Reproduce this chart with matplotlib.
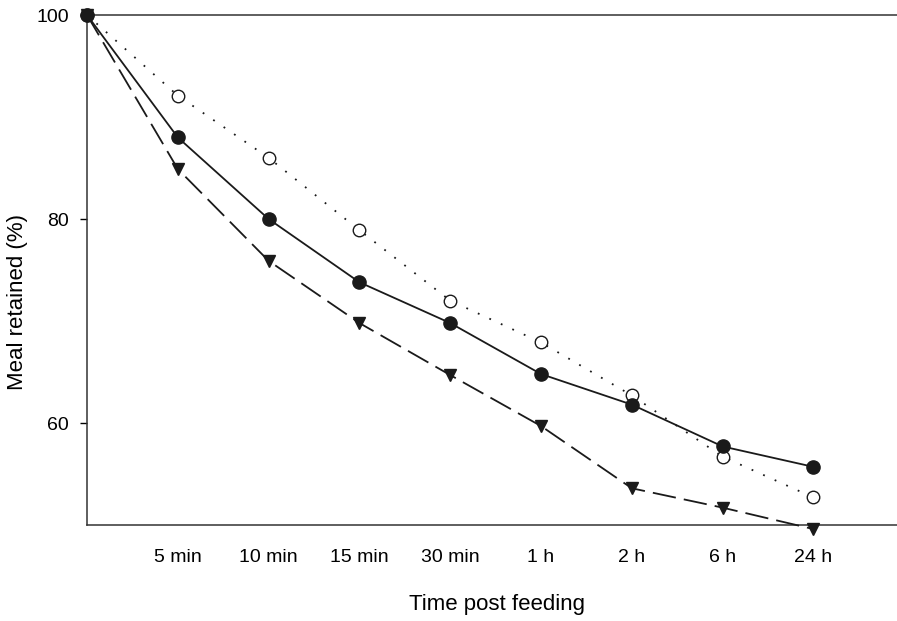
import matplotlib
matplotlib.use("Agg")
import matplotlib.pyplot as plt

plt.rcParams['font.family'] = ['Liberation Sans', 'DejaVu Sans']

# time points (categorical), first point is t=0
tick_labels = ['5 min', '10 min', '15 min', '30 min', '1 h', '2 h', '6 h', '24 h']
x = list(range(9))

filled_circle = [100, 88.0, 80.0, 73.8, 69.8, 64.8, 61.8, 57.7, 55.7]
open_circle = [100, 92.1, 86.0, 78.9, 72.0, 67.9, 62.7, 56.7, 52.7]
triangle = [100, 84.9, 75.9, 69.8, 64.7, 59.7, 53.6, 51.7, 49.6]

fig = plt.figure(figsize=(8.97, 6.21), dpi=100)
ax = fig.add_axes([0.097, 0.1546, 0.903, 0.8212])

ax.plot(x, triangle, color='#1a1a1a', lw=1.3, dashes=(13, 4.5),
        marker='v', ms=9, mfc='#1a1a1a', mec='#1a1a1a', clip_on=False, zorder=3)
ax.plot(x, open_circle, color='#1a1a1a', lw=1.3, ls=(0, (1, 6)),
        marker='o', ms=9, mfc='white', mec='#1a1a1a', mew=1.0, clip_on=False, zorder=4)
ax.plot(x, filled_circle, color='#1a1a1a', lw=1.3, ls='-',
        marker='o', ms=9.5, mfc='#1a1a1a', mec='#1a1a1a', clip_on=False, zorder=5)

ax.set_xlim(0, 8.92)
ax.set_ylim(50, 100)
ax.set_xticks(x[1:])
ax.set_xticklabels(tick_labels, fontsize=14)
ax.set_yticks([60, 80, 100])
ax.tick_params(axis='y', labelsize=14, length=5, width=1, direction='out', pad=8)
ax.tick_params(axis='x', length=0, pad=17)

ax.spines['right'].set_visible(False)
for s in ['left', 'top', 'bottom']:
    ax.spines[s].set_linewidth(1.1)
    ax.spines[s].set_color('#333333')

# axis titles placed in figure coordinates
fig.text(0.554, 0.026, 'Time post feeding', fontsize=16, ha='center', va='center')
fig.text(0.02, 0.514, 'Meal retained (%)', fontsize=16, ha='center', va='center',
         rotation=90)

fig.savefig('out.png', dpi=100)
